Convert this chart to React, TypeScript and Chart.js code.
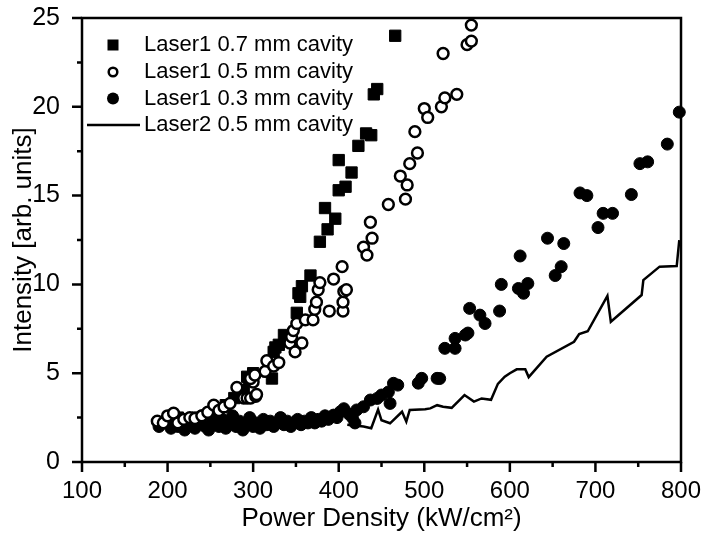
import React, { useEffect, useRef } from "react";
import { Chart, registerables } from "chart.js";

Chart.register(...registerables);

const FONT = "'Liberation Sans', Arial, Helvetica, sans-serif";

const seriesLabels = [
  "Laser1 0.7 mm cavity",
  "Laser1 0.5 mm cavity",
  "Laser1 0.3 mm cavity",
  "Laser2 0.5 mm cavity",
];

const xTickValues = [100, 200, 300, 400, 500, 600, 700, 800];
const yTickValues = [0, 5, 10, 15, 20, 25];

// Laser1 0.7 mm cavity (filled squares)
const laser1Cav07: [number, number][] = [
  [212, 2.5], [222, 2.3], [235, 2.5], [248, 2.7], [258, 2.9], [268, 3.2],
  [278, 3.6], [289, 4.05], [293, 4.8], [295, 4.6], [300, 5.0], [322, 4.7],
  [324, 6.2], [326, 6.45], [330, 6.6], [336, 7.15], [351, 8.4], [353, 9.5],
  [355, 9.3], [357, 9.9], [367, 10.5], [378, 12.4], [384, 14.3], [387, 13.1],
  [396, 13.7], [400, 15.3], [400, 17.0], [408, 15.5], [415, 16.3], [423, 17.8],
  [432, 18.5], [438, 18.4], [441, 20.7], [445, 21.0], [466, 24.0],
];

// Laser1 0.5 mm cavity (open circles)
const laser1Cav05: [number, number][] = [
  [188, 2.3], [195, 2.2], [200, 2.6], [207, 2.75], [212, 2.2], [219, 2.4],
  [226, 2.5], [232, 2.45], [240, 2.6], [247, 2.8], [254, 3.2], [260, 2.9],
  [266, 3.1], [273, 3.3], [281, 4.2], [289, 3.6], [293, 3.6], [297, 3.6],
  [300, 4.5], [303, 3.7], [304, 3.8], [297, 4.7], [302, 4.9], [314, 5.1],
  [316, 5.7], [324, 5.4], [330, 5.6], [343, 6.7], [345, 7.05], [347, 7.4],
  [349, 6.2], [351, 7.8], [357, 6.7], [361, 8.0], [370, 8.0], [372, 8.6],
  [374, 9.0], [376, 9.7], [378, 10.1], [389, 8.5], [394, 10.3], [404, 11.0],
  [405, 8.5], [405, 9.0], [406, 9.6], [409, 9.7], [429, 12.1], [433, 11.65],
  [437, 13.5], [439, 12.6], [458, 14.5], [472, 16.1], [478, 14.8], [480, 15.6],
  [483, 16.8], [489, 18.6], [492, 17.4], [500, 19.9], [504, 19.4], [520, 20.0],
  [522, 23.0], [524, 20.5], [538, 20.7], [550, 23.5], [555, 23.7], [555, 24.6],
];

// Laser1 0.3 mm cavity (filled circles)
const laser1Cav03: [number, number][] = [
  [190, 2.0], [196, 2.3], [200, 2.2], [204, 1.9], [208, 2.5], [212, 2.0],
  [216, 2.3], [220, 1.8], [224, 2.1], [228, 2.4], [232, 1.9], [236, 2.2],
  [240, 2.6], [244, 2.0], [248, 1.8], [252, 2.3], [256, 2.7], [260, 2.0],
  [264, 2.4], [268, 1.9], [272, 2.2], [276, 2.6], [280, 2.0], [284, 2.3],
  [288, 1.8], [292, 2.1], [296, 2.5], [300, 2.0], [304, 2.2], [308, 1.9],
  [312, 2.4], [316, 2.1], [320, 2.3], [324, 2.0], [328, 2.2], [332, 2.5],
  [336, 2.1], [340, 2.3], [344, 2.0], [348, 2.2], [352, 2.4], [356, 2.1],
  [360, 2.3], [364, 2.2], [368, 2.5], [372, 2.2], [376, 2.4], [380, 2.3],
  [384, 2.6], [388, 2.4], [394, 2.64], [398, 2.5], [402, 2.83], [406, 3.0],
  [412, 2.7], [416, 2.5], [419, 2.2], [421, 2.93], [429, 3.11], [437, 3.49],
  [445, 3.58], [450, 3.77], [458, 3.94], [460, 3.3], [464, 4.43], [469, 4.33],
  [493, 4.44], [497, 4.71], [515, 4.71], [518, 4.7], [524, 6.4], [536, 6.96],
  [536, 6.4], [548, 7.15], [551, 7.26], [553, 8.65], [565, 8.27], [571, 7.8],
  [588, 8.5], [590, 10.0], [610, 9.77], [612, 11.6], [616, 9.5], [621, 10.05],
  [644, 12.6], [653, 10.5], [660, 11.0], [663, 12.3], [682, 15.15], [690, 15.0],
  [703, 13.2], [709, 14.0], [720, 14.0], [742, 15.06], [752, 16.8], [761, 16.9],
  [784, 17.9], [798, 19.7],
];

// Laser2 0.5 mm cavity (solid line)
const laser2Cav05: [number, number][] = [
  [410, 2.1], [429, 2.0], [438, 1.9], [446, 2.95], [450, 2.35], [460, 2.18],
  [474, 2.83], [479, 2.27], [483, 2.93], [501, 2.97], [507, 3.02], [515, 3.2],
  [522, 3.11], [532, 3.05], [547, 3.77], [558, 3.4], [567, 3.58], [578, 3.5],
  [586, 4.4], [594, 4.8], [600, 5.0], [608, 5.22], [618, 5.22], [622, 4.78],
  [643, 5.93], [675, 6.77], [681, 7.2], [691, 7.36], [714, 9.35], [718, 7.9],
  [754, 9.4], [756, 10.24], [775, 11.0], [795, 11.03], [798, 12.49],
];

const toPoints = (arr: [number, number][]) => arr.map(([x, y]) => ({ x, y }));

const framePlugin = {
  id: "frameTicks",
  beforeDatasetsDraw(chart: any) {
    const { ctx, chartArea } = chart;
    const xs = chart.scales.x;
    const ys = chart.scales.y;
    ctx.save();
    ctx.strokeStyle = "#000";
    ctx.lineWidth = 2.5;
    ctx.strokeRect(chartArea.left, chartArea.top, chartArea.right - chartArea.left, chartArea.bottom - chartArea.top);
    ctx.beginPath();
    for (let v = 100; v <= 800; v += 50) {
      const px = xs.getPixelForValue(v);
      const len = v % 100 === 0 ? 10 : 5;
      ctx.moveTo(px, chartArea.bottom);
      ctx.lineTo(px, chartArea.bottom + len);
    }
    for (let v = 0; v <= 25; v += 2.5) {
      const py = ys.getPixelForValue(v);
      const len = v % 5 === 0 ? 10 : 5;
      ctx.moveTo(chartArea.left, py);
      ctx.lineTo(chartArea.left - len, py);
    }
    ctx.stroke();
    ctx.restore();
  },
};

const legendPlugin = {
  id: "insideLegend",
  afterDraw(chart: any) {
    const { ctx } = chart;
    const rows = [45, 72, 98.5, 125];
    const markerX = 113;
    const textX = 144;
    ctx.save();
    ctx.font = `22px ${FONT}`;
    ctx.textBaseline = "middle";
    ctx.textAlign = "left";
    chart.data.datasets.forEach((ds: any, i: number) => {
      const y = rows[i];
      ctx.fillStyle = "#000";
      ctx.strokeStyle = "#000";
      if (i === 0) {
        ctx.fillRect(markerX - 5.5, y - 5.5, 11, 11);
      } else if (i === 1) {
        ctx.beginPath();
        ctx.lineWidth = 2.5;
        ctx.fillStyle = "#fff";
        ctx.arc(markerX, y, 4.3, 0, Math.PI * 2);
        ctx.fill();
        ctx.stroke();
      } else if (i === 2) {
        ctx.beginPath();
        ctx.arc(markerX, y, 6, 0, Math.PI * 2);
        ctx.fill();
      } else {
        ctx.beginPath();
        ctx.lineWidth = 2.5;
        ctx.moveTo(87, y);
        ctx.lineTo(140, y);
        ctx.stroke();
      }
      ctx.fillStyle = "#000";
      ctx.fillText(ds.label, textX, y);
    });
    ctx.restore();
  },
};

export default function App() {
  const canvasRef = useRef<HTMLCanvasElement | null>(null);

  useEffect(() => {
    if (!canvasRef.current) return;
    const chart = new Chart(canvasRef.current, {
      type: "scatter",
      data: {
        datasets: [
          {
            label: seriesLabels[0],
            data: toPoints(laser1Cav07),
            pointStyle: "rect",
            pointRadius: 8,
            backgroundColor: "#000",
            borderColor: "#000",
            borderWidth: 1,
            order: 1,
            clip: false as any,
          },
          {
            label: seriesLabels[1],
            data: toPoints(laser1Cav05),
            pointStyle: "circle",
            pointRadius: 5.4,
            backgroundColor: "#fff",
            borderColor: "#000",
            borderWidth: 2.5,
            order: 0,
            clip: false as any,
          },
          {
            label: seriesLabels[2],
            data: toPoints(laser1Cav03),
            pointStyle: "circle",
            pointRadius: 6,
            backgroundColor: "#000",
            borderColor: "#000",
            borderWidth: 1,
            order: 2,
            clip: false as any,
          },
          {
            label: seriesLabels[3],
            data: toPoints(laser2Cav05),
            showLine: true,
            pointRadius: 0,
            borderColor: "#000",
            backgroundColor: "#000",
            borderWidth: 2.5,
            tension: 0,
            order: 3,
            clip: false as any,
          },
        ],
      },
      options: {
        animation: false,
        responsive: false,
        maintainAspectRatio: false,
        layout: { padding: { top: 18, right: 24, left: 0, bottom: 0 } },
        plugins: {
          legend: { display: false },
          tooltip: { enabled: false },
        },
        scales: {
          x: {
            type: "linear",
            min: 100,
            max: 800,
            grid: { display: false },
            border: { display: false },
            afterBuildTicks: (scale: any) => {
              scale.ticks = xTickValues.map((v) => ({ value: v }));
            },
            afterFit: (scale: any) => {
              scale.height = 73;
              scale.paddingLeft = 0;
              scale.paddingRight = 0;
            },
            ticks: {
              autoSkip: false,
              maxRotation: 0,
              padding: 7,
              color: "#000",
              font: { family: FONT, size: 24 },
            },
            title: {
              display: true,
              text: "Power Density (kW/cm²)",
              color: "#000",
              font: { family: FONT, size: 26 },
              padding: { top: 0, bottom: 1 },
            },
          },
          y: {
            type: "linear",
            min: 0,
            max: 25,
            grid: { display: false },
            border: { display: false },
            afterBuildTicks: (scale: any) => {
              scale.ticks = yTickValues.map((v) => ({ value: v }));
            },
            afterFit: (scale: any) => {
              scale.width = 82;
              scale.paddingTop = 0;
              scale.paddingBottom = 0;
            },
            ticks: {
              autoSkip: false,
              padding: 14,
              color: "#000",
              font: { family: FONT, size: 25 },
            },
            title: {
              display: true,
              text: "Intensity [arb. units]",
              color: "#000",
              font: { family: FONT, size: 26 },
              padding: { top: 8, bottom: 0 },
            },
          },
        },
      },
      plugins: [framePlugin, legendPlugin],
    });
    return () => chart.destroy();
  }, []);

  return (
    <div style={{ position: "absolute", left: 0, top: 0, width: 705, height: 535, background: "#fff" }}>
      <canvas ref={canvasRef} width={705} height={535} style={{ display: "block", width: 705, height: 535 }} />
    </div>
  );
}
